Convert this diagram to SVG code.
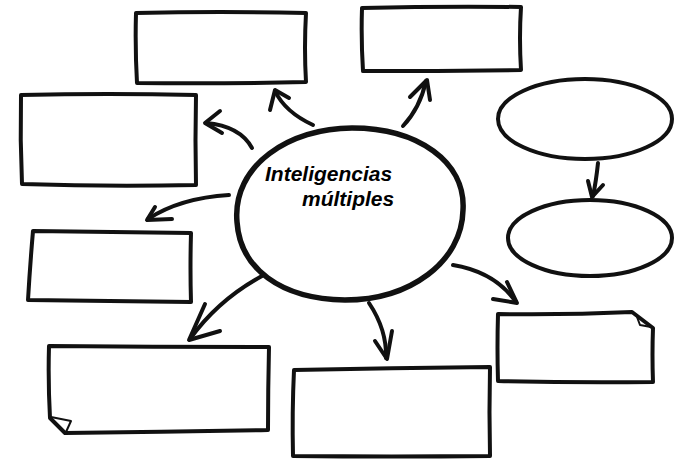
<svg xmlns="http://www.w3.org/2000/svg" width="674" height="462" viewBox="0 0 674 462">
  <style>
    .ink { fill: #ffffff; stroke: #111111; stroke-width: 4; stroke-linejoin: round; stroke-linecap: round; }
    .bold { stroke-width: 5.5; }
    .line { fill: none; stroke: #111111; stroke-width: 4; stroke-linecap: round; stroke-linejoin: round; }
    .fold { fill: none; stroke: #111111; stroke-width: 2; stroke-linejoin: round; }
    .title { font-family: "Liberation Sans", Arial, sans-serif; font-size: 21px; font-weight: bold; font-style: italic; fill: #000000; }
  </style>
  <rect width="674" height="462" fill="#ffffff"/>

  <!-- connectors: curved strokes with open arrowheads -->
  <g id="connectors">
    <path class="line" d="M313,125 Q285,112 275,91"/>
    <path class="line" d="M270,110 L275,90 L289,98"/>

    <path class="line" d="M252,148 Q240,126 206,123"/>
    <path class="line" d="M220,111 L205,123 L222,133"/>

    <path class="line" d="M229,195 Q180,198 148,219"/>
    <path class="line" d="M155,207 L147,220 L172,219"/>

    <path class="line" d="M262,276 Q218,300 190,339"/>
    <path class="line" d="M205,304 L189,340 L220,331"/>

    <path class="line" d="M369,303 Q387,330 386,358"/>
    <path class="line" d="M375,341 L387,359 L392,331"/>

    <path class="line" d="M453,265 Q495,272 516,302"/>
    <path class="line" d="M493,299 L517,303 L507,282"/>

    <path class="line" d="M403,126 Q420,108 426,81"/>
    <path class="line" d="M410,97 L427,80 L430,100"/>

    <path class="line" d="M598,163 Q596,182 593,196"/>
    <path class="line" d="M588,181 L592,197 L603,185"/>
  </g>

  <!-- central topic -->
  <g id="center">
    <path class="ink bold" d="M237,222 C232,165 290,128 352,128 C418,128 466,162 463,210 C462,262 410,300 345,300 C280,299 240,268 237,222 Z"/>
    <text class="title" x="265" y="181">Inteligencias</text>
    <text class="title" x="302" y="206">múltiples</text>
  </g>

  <!-- surrounding boxes -->
  <g id="box-top-left">
    <path class="ink" d="M136,13 Q220,11 306,13 Q304,48 306,82 Q220,84 137,83 Q135,48 136,13 Z"/>
  </g>
  <g id="box-top-right">
    <path class="ink" d="M362,8 Q442,6 521,7 Q519,38 521,70 Q442,71 363,71 Q361,40 362,8 Z"/>
  </g>
  <g id="box-left-upper">
    <path class="ink" d="M21,95 Q108,93 196,95 Q195,140 196,185 Q110,187 22,184 Q20,140 21,95 Z"/>
  </g>
  <g id="box-left-lower">
    <path class="ink" d="M33,231 Q112,232 191,233 Q190,268 191,302 Q110,301 28,300 Q30,266 33,231 Z"/>
  </g>
  <g id="box-bottom-left">
    <path class="ink" d="M49,346 Q160,347 269,347 Q268,390 268,430 Q168,432 65,433 L50,418 Q48,382 49,346 Z"/>
    <path class="fold" d="M51,417 L71,421 L66,432"/>
  </g>
  <g id="box-bottom-center">
    <path class="ink" d="M294,370 Q392,368 490,367 Q489,412 490,456 Q392,457 293,456 Q292,412 294,370 Z"/>
  </g>
  <g id="box-bottom-right">
    <path class="ink" d="M498,314 Q566,315 632,312 L653,328 Q652,355 653,382 Q576,383 498,381 Q497,348 498,314 Z"/>
    <path class="fold" d="M637,317 L640,325 L651,327"/>
  </g>
  <g id="oval-upper">
    <ellipse class="ink" cx="585" cy="119" rx="87" ry="40"/>
  </g>
  <g id="oval-lower">
    <ellipse class="ink" cx="590" cy="238" rx="82" ry="38"/>
  </g>
</svg>
